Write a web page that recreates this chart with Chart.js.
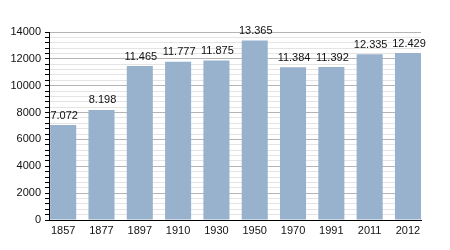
<!DOCTYPE html>
<html lang="en">
<head>
    <meta charset="UTF-8">
    <title>Population</title>
    <script src="https://cdn.jsdelivr.net/npm/chart.js"></script>
    <style>
        body { margin: 0; background: #fff; }
        .chart-container { position: relative; width: 450px; height: 250px; }
    </style>
</head>
<body>
    <div class="chart-container">
        <canvas id="chart"></canvas>
    </div>
    <script>
        // Data
        const years = ['1857', '1877', '1897', '1910', '1930', '1950', '1970', '1991', '2011', '2012'];
        const population = [7072, 8198, 11465, 11777, 11875, 13365, 11384, 11392, 12335, 12429];
        const yMax = 14000;
        const yStep = 400;
        const labelStep = 2000;

        const fontFamily = '"Liberation Sans", Arial, sans-serif';

        // "7072" -> "7.072"
        function fmt(v) {
            return String(v).replace(/\B(?=(\d{3})+(?!\d))/g, '.');
        }

        // bars sit on a numeric x axis (index of the year) so the first and
        // last bar can hug the axis ends like in the original
        const points = population.map((v, i) => ({ x: i, y: v }));

        // Value labels above the bars
        const valueLabels = {
            id: 'valueLabels',
            afterDatasetsDraw(chart) {
                const ctx = chart.ctx;
                const meta = chart.getDatasetMeta(0);
                ctx.save();
                ctx.font = '11px ' + fontFamily;
                ctx.fillStyle = '#111';
                ctx.textAlign = 'center';
                ctx.textBaseline = 'bottom';
                meta.data.forEach((bar, i) => {
                    ctx.fillText(fmt(population[i]), bar.x + 1, bar.y - 4);
                });
                ctx.restore();
            }
        };

        const ctx = document.getElementById('chart').getContext('2d');
        new Chart(ctx, {
            type: 'bar',
            data: {
                datasets: [{
                    data: points,
                    backgroundColor: '#98b1cc',
                    categoryPercentage: 1,
                    barPercentage: 0.68
                }]
            },
            options: {
                responsive: true,
                maintainAspectRatio: false,
                animation: false,
                layout: { padding: { left: 0, right: 29, top: 32, bottom: 0 } },
                plugins: {
                    legend: { display: false },
                    tooltip: { enabled: false }
                },
                scales: {
                    x: {
                        type: 'linear',
                        min: -0.37,
                        max: 9.34,
                        offset: false,
                        grid: { display: false, drawTicks: false },
                        border: { color: '#000', width: 1 },
                        ticks: {
                            stepSize: 1,
                            includeBounds: false,
                            autoSkip: false,
                            maxRotation: 0,
                            color: '#111',
                            padding: 4,
                            font: { family: fontFamily, size: 11 },
                            callback: v => Number.isInteger(v) ? years[v] : ''
                        },
                        afterFit(scale) { scale.height = 30; }
                    },
                    y: {
                        min: 0,
                        max: yMax,
                        grid: {
                            color: c => (c.tick && c.tick.value % labelStep === 0) ? '#b4b4b4' : '#e4e4e4',
                            tickColor: '#000',
                            tickLength: 4
                        },
                        border: { color: '#000', width: 1 },
                        ticks: {
                            stepSize: yStep,
                            autoSkip: false,
                            color: '#111',
                            padding: 4,
                            font: { family: fontFamily, size: 11 },
                            callback: v => (v % labelStep === 0) ? String(v) : ''
                        },
                        afterFit(scale) { scale.width = 49; }
                    }
                }
            },
            plugins: [valueLabels]
        });
    </script>
</body>
</html>
